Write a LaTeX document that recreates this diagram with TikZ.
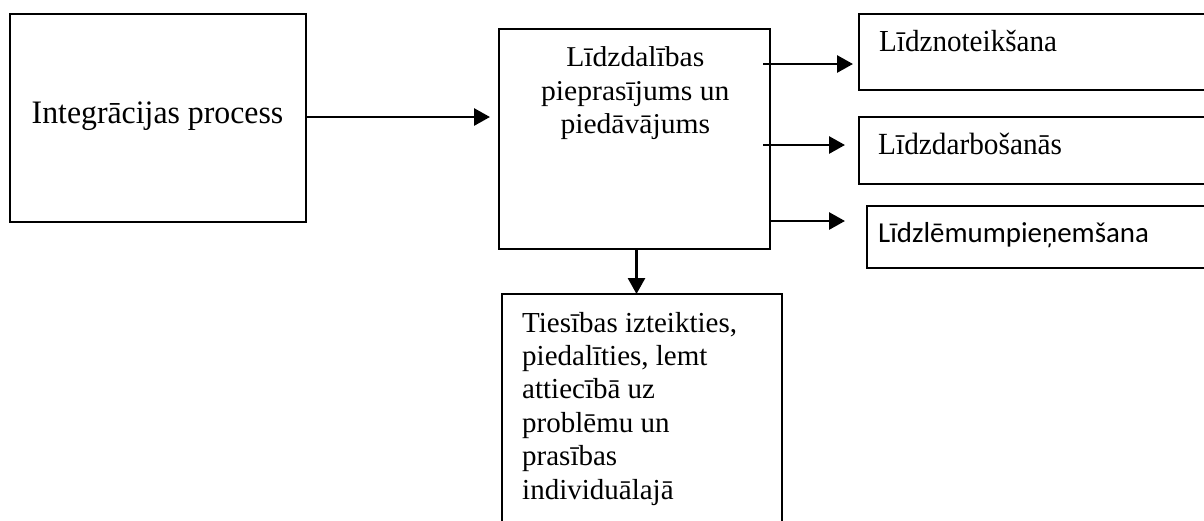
\documentclass[tikz,border=0pt]{standalone}
\usepackage{fontspec}
\setmainfont{Liberation Serif}
\newfontfamily\calibrifont{Carlito}
\usetikzlibrary{arrows.meta,calc}
% scale a text vertically only
\newcommand{\vstretch}[2]{\scalebox{1}[#1]{#2}}

\begin{document}
\begin{tikzpicture}[x=1pt,y=-1pt,
  box/.style={draw, line width=2pt, inner sep=0pt, outer sep=0pt, anchor=north west},
  conn/.style={line width=2.8pt, -{Triangle[length=16pt,width=17pt]}},
  txt/.style={inner sep=0pt, font=\fontsize{29}{33}\selectfont},
]
\useasboundingbox (0,0) rectangle (1204,520);
\clip (0,0) rectangle (1204,520);

% boxes
\node[box, minimum width=296pt, minimum height=208pt] (proc) at (10,14) {};
\node[box, minimum width=271pt, minimum height=220pt] (mid) at (499,29) {};
\node[box, minimum width=380pt, minimum height=76pt] (b1) at (859,14) {};
\node[box, minimum width=380pt, minimum height=67pt] (b2) at (859,117) {};
\node[box, minimum width=380pt, minimum height=62pt] (b3) at (867,206) {};
\node[box, minimum width=280pt, minimum height=260pt] (bot) at (502,294) {};

% texts
\node[txt, anchor=base, font=\fontsize{31.8}{36}\selectfont] (tproc) at (157.5,123.3) {\vstretch{1.03}{Integrācijas process}};
\node[txt, anchor=base, font=\fontsize{29.6}{33}\selectfont] (tm1) at (635.3,66.7) {\vstretch{0.97}{Līdzdalības}};
\node[txt, anchor=base, font=\fontsize{29.6}{33}\selectfont] (tm2) at (635.3,100) {\vstretch{0.97}{pieprasījums un}};
\node[txt, anchor=base, font=\fontsize{29.6}{33}\selectfont] (tm3) at (635.3,133) {\vstretch{0.97}{piedāvājums}};
\node[txt, anchor=base west, font=\fontsize{29.1}{33}\selectfont] (t1) at (879,51.7) {\vstretch{1.05}{Līdznoteikšana}};
\node[txt, anchor=base west, font=\fontsize{29.3}{33}\selectfont] (t2) at (878,154.3) {\vstretch{1.05}{Līdzdarbošanās}};
\node[txt, anchor=base west, font=\calibrifont\fontsize{28.9}{33}\selectfont] (t3) at (878,242) {Līdzlēmumpieņemšana};
\node[txt, anchor=base west] (tb1) at (522,332) {Tiesības izteikties,};
\node[txt, anchor=base west] (tb2) at (522,365) {piedalīties, lemt};
\node[txt, anchor=base west] (tb3) at (522,398) {attiecībā uz};
\node[txt, anchor=base west] (tb4) at (522,432) {problēmu un};
\node[txt, anchor=base west] (tb5) at (522,465) {prasības};
\node[txt, anchor=base west] (tb6) at (522,499) {individuālajā};

% heights of the outgoing arrows
\coordinate (y0) at (0,117);
\coordinate (y1) at (0,64);
\coordinate (y2) at (0,145);
\coordinate (y3) at (0,221);

% connectors
\draw[conn, shorten >=9pt] (proc.east |- y0) -- (mid.west |- y0);
\draw[conn] ([xshift=-7pt]mid.east |- y1) -- ([xshift=-6pt]b1.west |- y1);
\draw[conn] ([xshift=-7pt]mid.east |- y2) -- ([xshift=-14pt]b2.west |- y2);
\draw[conn] (mid.east |- y3) -- ([xshift=-22pt]b3.west |- y3);
\draw[conn] ([xshift=2pt]mid.south) -- ([xshift=2pt]mid.south |- bot.north);
\end{tikzpicture}
\end{document}
